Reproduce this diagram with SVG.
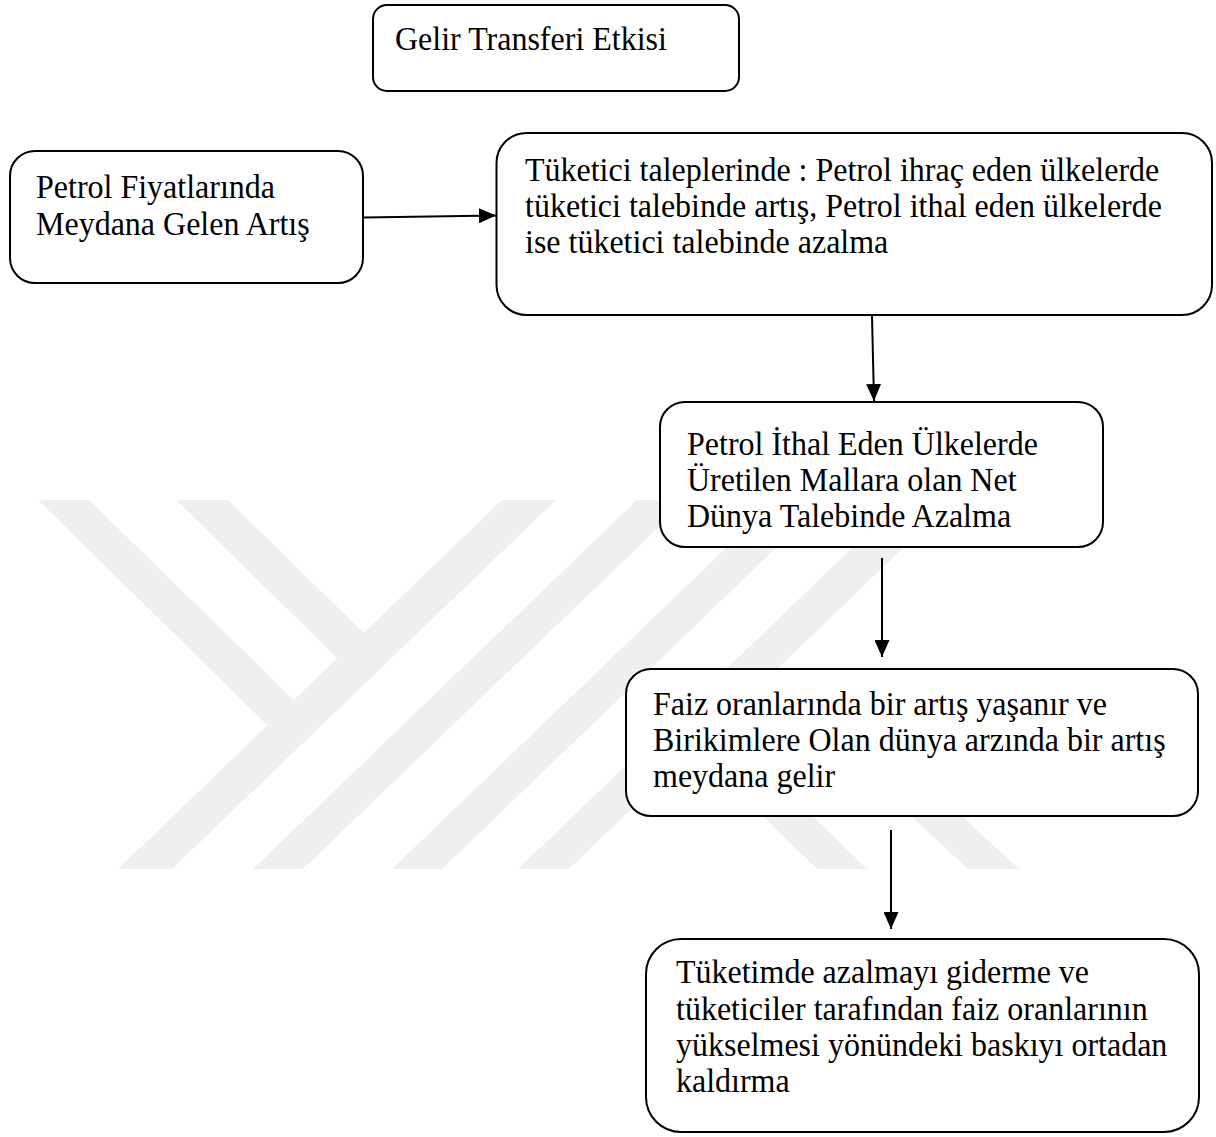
<svg xmlns="http://www.w3.org/2000/svg" width="1216" height="1137" viewBox="0 0 1216 1137">
<style>
.box{fill:#ffffff;stroke:#000000;stroke-width:2}
.t{font-family:"Liberation Serif","Times New Roman",serif;font-size:32px;fill:#000000}
.wm{fill:#efefef;stroke:none}
.edge{stroke:#000000;stroke-width:2;fill:none}
</style>
<defs>
<marker id="ah" markerUnits="userSpaceOnUse" markerWidth="17" markerHeight="15" refX="17" refY="7.5" orient="auto">
<path d="M0,0 L17,7.5 L0,15 Z" fill="#000000"/>
</marker>
</defs>
<rect width="1216" height="1137" fill="#ffffff"/>
<g id="watermark">
<polygon class="wm" points="38,500 89,500 300,706 274,732"/>
<polygon class="wm" points="176,500 228,500 370,639 344,665"/>
<polygon class="wm" points="502,500 556,500 172,869 118,869"/>
<polygon class="wm" points="637,500 687,500 303,869 253,869"/>
<polygon class="wm" points="776,500 826,500 442,869 392,869"/>
<polygon class="wm" points="902,500 953,500 569,869 518,869"/>
<polygon class="wm" points="685,740 735,740 867,869 817,869"/>
<polygon class="wm" points="765,680 815,680 1019,869 968,869"/>
</g>
<g id="connectors">
<line class="edge" x1="364" y1="217.5" x2="496" y2="215.5" marker-end="url(#ah)"/>
<line class="edge" x1="872" y1="316" x2="874" y2="401" marker-end="url(#ah)"/>
<line class="edge" x1="882" y1="558" x2="882" y2="657" marker-end="url(#ah)"/>
<line class="edge" x1="891" y1="830" x2="891" y2="929" marker-end="url(#ah)"/>
</g>
<g id="n1">
<rect class="box" x="373" y="5" width="366" height="86" rx="14" ry="14"/>
<text class="t" transform="translate(395,50) scale(1,1.08)">Gelir Transferi Etkisi</text>
</g>
<g id="n2">
<rect class="box" x="10" y="151" width="353" height="132" rx="25" ry="25"/>
<text class="t" transform="translate(36,198) scale(1,1.08)">Petrol Fiyatlarında</text>
<text class="t" transform="translate(36,234.5) scale(1,1.08)">Meydana Gelen Artış</text>
</g>
<g id="n3">
<rect class="box" x="496.5" y="133" width="715.5" height="182" rx="30" ry="30"/>
<text class="t" transform="translate(525,181) scale(1,1.08)">Tüketici taleplerinde : Petrol ihraç eden ülkelerde</text>
<text class="t" transform="translate(525,217) scale(1,1.08)">tüketici talebinde artış, Petrol ithal eden ülkelerde</text>
<text class="t" transform="translate(525,253) scale(1,1.08)">ise tüketici talebinde azalma</text>
</g>
<g id="n4">
<rect class="box" x="660" y="402" width="443" height="145" rx="25" ry="25"/>
<text class="t" transform="translate(687,455) scale(1,1.08)">Petrol İthal Eden Ülkelerde</text>
<text class="t" transform="translate(687,491) scale(1,1.08)">Üretilen Mallara olan Net</text>
<text class="t" transform="translate(687,527) scale(1,1.08)">Dünya Talebinde Azalma</text>
</g>
<g id="n5">
<rect class="box" x="626" y="669" width="572" height="147" rx="25" ry="25"/>
<text class="t" transform="translate(653,715) scale(1,1.08)">Faiz oranlarında bir artış yaşanır ve</text>
<text class="t" transform="translate(653,751) scale(1,1.08)">Birikimlere Olan dünya arzında bir artış</text>
<text class="t" transform="translate(653,787) scale(1,1.08)">meydana gelir</text>
</g>
<g id="n6">
<rect class="box" x="646" y="939" width="553" height="193" rx="35" ry="35"/>
<text class="t" transform="translate(676,983) scale(1,1.08)">Tüketimde azalmayı giderme ve</text>
<text class="t" transform="translate(676,1019.5) scale(1,1.08)">tüketiciler tarafından faiz oranlarının</text>
<text class="t" transform="translate(676,1056) scale(1,1.08)">yükselmesi yönündeki baskıyı ortadan</text>
<text class="t" transform="translate(676,1092) scale(1,1.08)">kaldırma</text>
</g>
</svg>
